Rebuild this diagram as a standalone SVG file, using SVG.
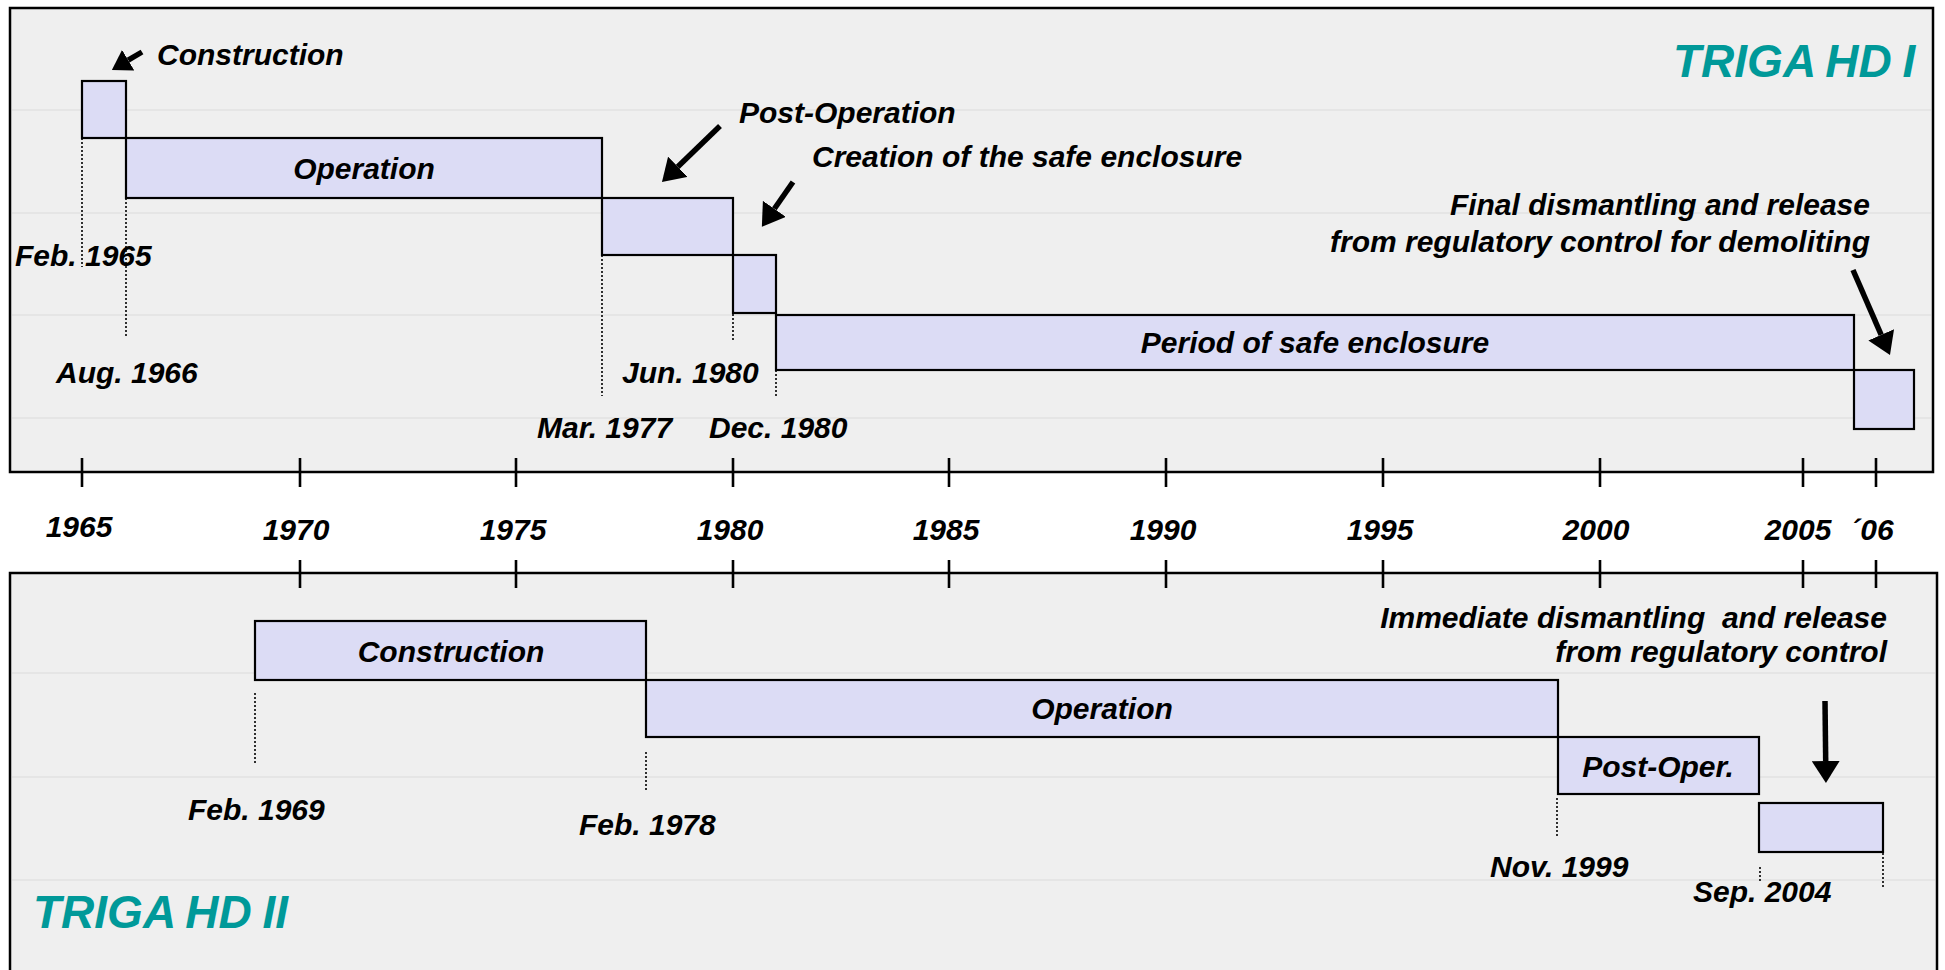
<svg xmlns="http://www.w3.org/2000/svg" width="1945" height="970" viewBox="0 0 1945 970">
<style>
.frame{fill:#efefef;stroke:#000;stroke-width:2.5}
.grid{stroke:#e2e2e2;stroke-width:1.5}
.bar{fill:#dcdcf5;stroke:#000;stroke-width:2.2}
.dot{stroke:#000;stroke-width:1.6;stroke-dasharray:2 2;fill:none}
.tick{stroke:#000;stroke-width:2.6}
.t{font-family:"Liberation Sans",Arial,sans-serif;font-weight:bold;font-style:italic;font-size:30px;fill:#000}
.c{text-anchor:middle}
.r{text-anchor:end}
.title{font-family:"Liberation Sans",Arial,sans-serif;font-weight:bold;font-style:italic;font-size:46px;fill:#009999;word-spacing:-2px}
.arr{stroke:#000;stroke-width:5.5;fill:none}
</style>
<defs>
<marker id="ah" markerUnits="userSpaceOnUse" markerWidth="22" markerHeight="28" refX="0" refY="14" orient="auto" viewBox="0 0 22 28"><path d="M0,0 L22,14 L0,28 z" fill="#000"/></marker>
<marker id="ahs" markerUnits="userSpaceOnUse" markerWidth="19" markerHeight="24" refX="0" refY="12" orient="auto" viewBox="0 0 19 24"><path d="M0,0 L19,12 L0,24 z" fill="#000"/></marker>
</defs>
<rect width="1945" height="970" fill="#fff"/>

<g id="frame-hd1">
<rect class="frame" x="10" y="8" width="1923" height="464"/>
<line class="grid" x1="12" y1="110" x2="1931" y2="110"/>
<line class="grid" x1="12" y1="213" x2="1931" y2="213"/>
<line class="grid" x1="12" y1="315" x2="1931" y2="315"/>
<line class="grid" x1="12" y1="418" x2="1931" y2="418"/>
</g>
<g id="frame-hd2">
<rect class="frame" x="10" y="573" width="1927" height="410"/>
<line class="grid" x1="12" y1="673" x2="1935" y2="673"/>
<line class="grid" x1="12" y1="777" x2="1935" y2="777"/>
<line class="grid" x1="12" y1="880" x2="1935" y2="880"/>
</g>

<g id="axis">
<g id="ticks-top">
<line class="tick" x1="82" y1="458" x2="82" y2="487"/>
<line class="tick" x1="300" y1="458" x2="300" y2="487"/>
<line class="tick" x1="516" y1="458" x2="516" y2="487"/>
<line class="tick" x1="733" y1="458" x2="733" y2="487"/>
<line class="tick" x1="949" y1="458" x2="949" y2="487"/>
<line class="tick" x1="1166" y1="458" x2="1166" y2="487"/>
<line class="tick" x1="1383" y1="458" x2="1383" y2="487"/>
<line class="tick" x1="1600" y1="458" x2="1600" y2="487"/>
<line class="tick" x1="1803" y1="458" x2="1803" y2="487"/>
<line class="tick" x1="1876" y1="458" x2="1876" y2="487"/>
</g>
<g id="ticks-bottom">
<line class="tick" x1="300" y1="560" x2="300" y2="588"/>
<line class="tick" x1="516" y1="560" x2="516" y2="588"/>
<line class="tick" x1="733" y1="560" x2="733" y2="588"/>
<line class="tick" x1="949" y1="560" x2="949" y2="588"/>
<line class="tick" x1="1166" y1="560" x2="1166" y2="588"/>
<line class="tick" x1="1383" y1="560" x2="1383" y2="588"/>
<line class="tick" x1="1600" y1="560" x2="1600" y2="588"/>
<line class="tick" x1="1803" y1="560" x2="1803" y2="588"/>
<line class="tick" x1="1876" y1="560" x2="1876" y2="588"/>
</g>
<g id="years">
<text class="t c" x="79" y="537">1965</text>
<text class="t c" x="296" y="540">1970</text>
<text class="t c" x="513" y="540">1975</text>
<text class="t c" x="730" y="540">1980</text>
<text class="t c" x="946" y="540">1985</text>
<text class="t c" x="1163" y="540">1990</text>
<text class="t c" x="1380" y="540">1995</text>
<text class="t c" x="1596" y="540">2000</text>
<text class="t c" x="1798" y="540">2005</text>
<text class="t c" x="1872" y="540">´06</text>
</g>
</g>

<g id="guides">
<line class="dot" x1="82" y1="138" x2="82" y2="267"/>
<line class="dot" x1="126" y1="198" x2="126" y2="338"/>
<line class="dot" x1="602" y1="139" x2="602" y2="396"/>
<line class="dot" x1="733" y1="198" x2="733" y2="340"/>
<line class="dot" x1="776" y1="370" x2="776" y2="398"/>
<line class="dot" x1="255" y1="693" x2="255" y2="763"/>
<line class="dot" x1="646" y1="752" x2="646" y2="792"/>
<line class="dot" x1="1557" y1="798" x2="1557" y2="837"/>
<line class="dot" x1="1760" y1="867" x2="1760" y2="883"/>
<line class="dot" x1="1883" y1="845" x2="1883" y2="887"/>
</g>

<g id="hd1-construction"><rect class="bar" x="82" y="81" width="44" height="57"/></g>
<g id="hd1-operation"><rect class="bar" x="126" y="138" width="476" height="60"/><text class="t c" x="364" y="179">Operation</text></g>
<g id="hd1-postop"><rect class="bar" x="602" y="198" width="131" height="57"/></g>
<g id="hd1-creation"><rect class="bar" x="733" y="255" width="43" height="58"/></g>
<g id="hd1-safe"><rect class="bar" x="776" y="315" width="1078" height="55"/><text class="t c" x="1315" y="353">Period of safe enclosure</text></g>
<g id="hd1-final"><rect class="bar" x="1854" y="370" width="60" height="59"/></g>

<g id="hd2-construction"><rect class="bar" x="255" y="621" width="391" height="59"/><text class="t c" x="451" y="662">Construction</text></g>
<g id="hd2-operation"><rect class="bar" x="646" y="680" width="912" height="57"/><text class="t c" x="1102" y="719">Operation</text></g>
<g id="hd2-postop"><rect class="bar" x="1558" y="737" width="201" height="57"/><text class="t c" x="1658" y="777">Post-Oper.</text></g>
<g id="hd2-final"><rect class="bar" x="1759" y="803" width="124" height="49"/></g>

<g id="labels">
<text class="title" x="1673" y="77">TRIGA HD I</text>
<text class="title" x="33" y="928">TRIGA HD II</text>
<text class="t" x="157" y="65">Construction</text>
<text class="t" x="739" y="123">Post-Operation</text>
<text class="t" x="812" y="167">Creation of the safe enclosure</text>
<text class="t r" x="1870" y="215">Final dismantling and release</text>
<text class="t r" x="1870" y="252">from regulatory control for demoliting</text>
<text class="t r" x="1887" y="628" xml:space="preserve">Immediate dismantling  and release</text>
<text class="t r" x="1887" y="662">from regulatory control</text>
<text class="t" x="15" y="266">Feb. 1965</text>
<text class="t" x="56" y="383">Aug. 1966</text>
<text class="t" x="537" y="438">Mar. 1977</text>
<text class="t" x="622" y="383">Jun. 1980</text>
<text class="t" x="709" y="438">Dec. 1980</text>
<text class="t" x="188" y="820">Feb. 1969</text>
<text class="t" x="579" y="835">Feb. 1978</text>
<text class="t" x="1490" y="877">Nov. 1999</text>
<text class="t" x="1693" y="902">Sep. 2004</text>
</g>

<g id="connectors">
<line class="arr" x1="142" y1="52" x2="128.2" y2="60.2" marker-end="url(#ahs)"/>
<line class="arr" x1="720" y1="126" x2="677.8" y2="166.7" marker-end="url(#ah)"/>
<line class="arr" x1="793" y1="182" x2="774.4" y2="208.8" marker-end="url(#ah)"/>
<line class="arr" x1="1853" y1="270" x2="1881.2" y2="334.8" marker-end="url(#ah)"/>
<line class="arr" x1="1825" y1="701" x2="1825.7" y2="761" marker-end="url(#ah)"/>
</g>
</svg>
